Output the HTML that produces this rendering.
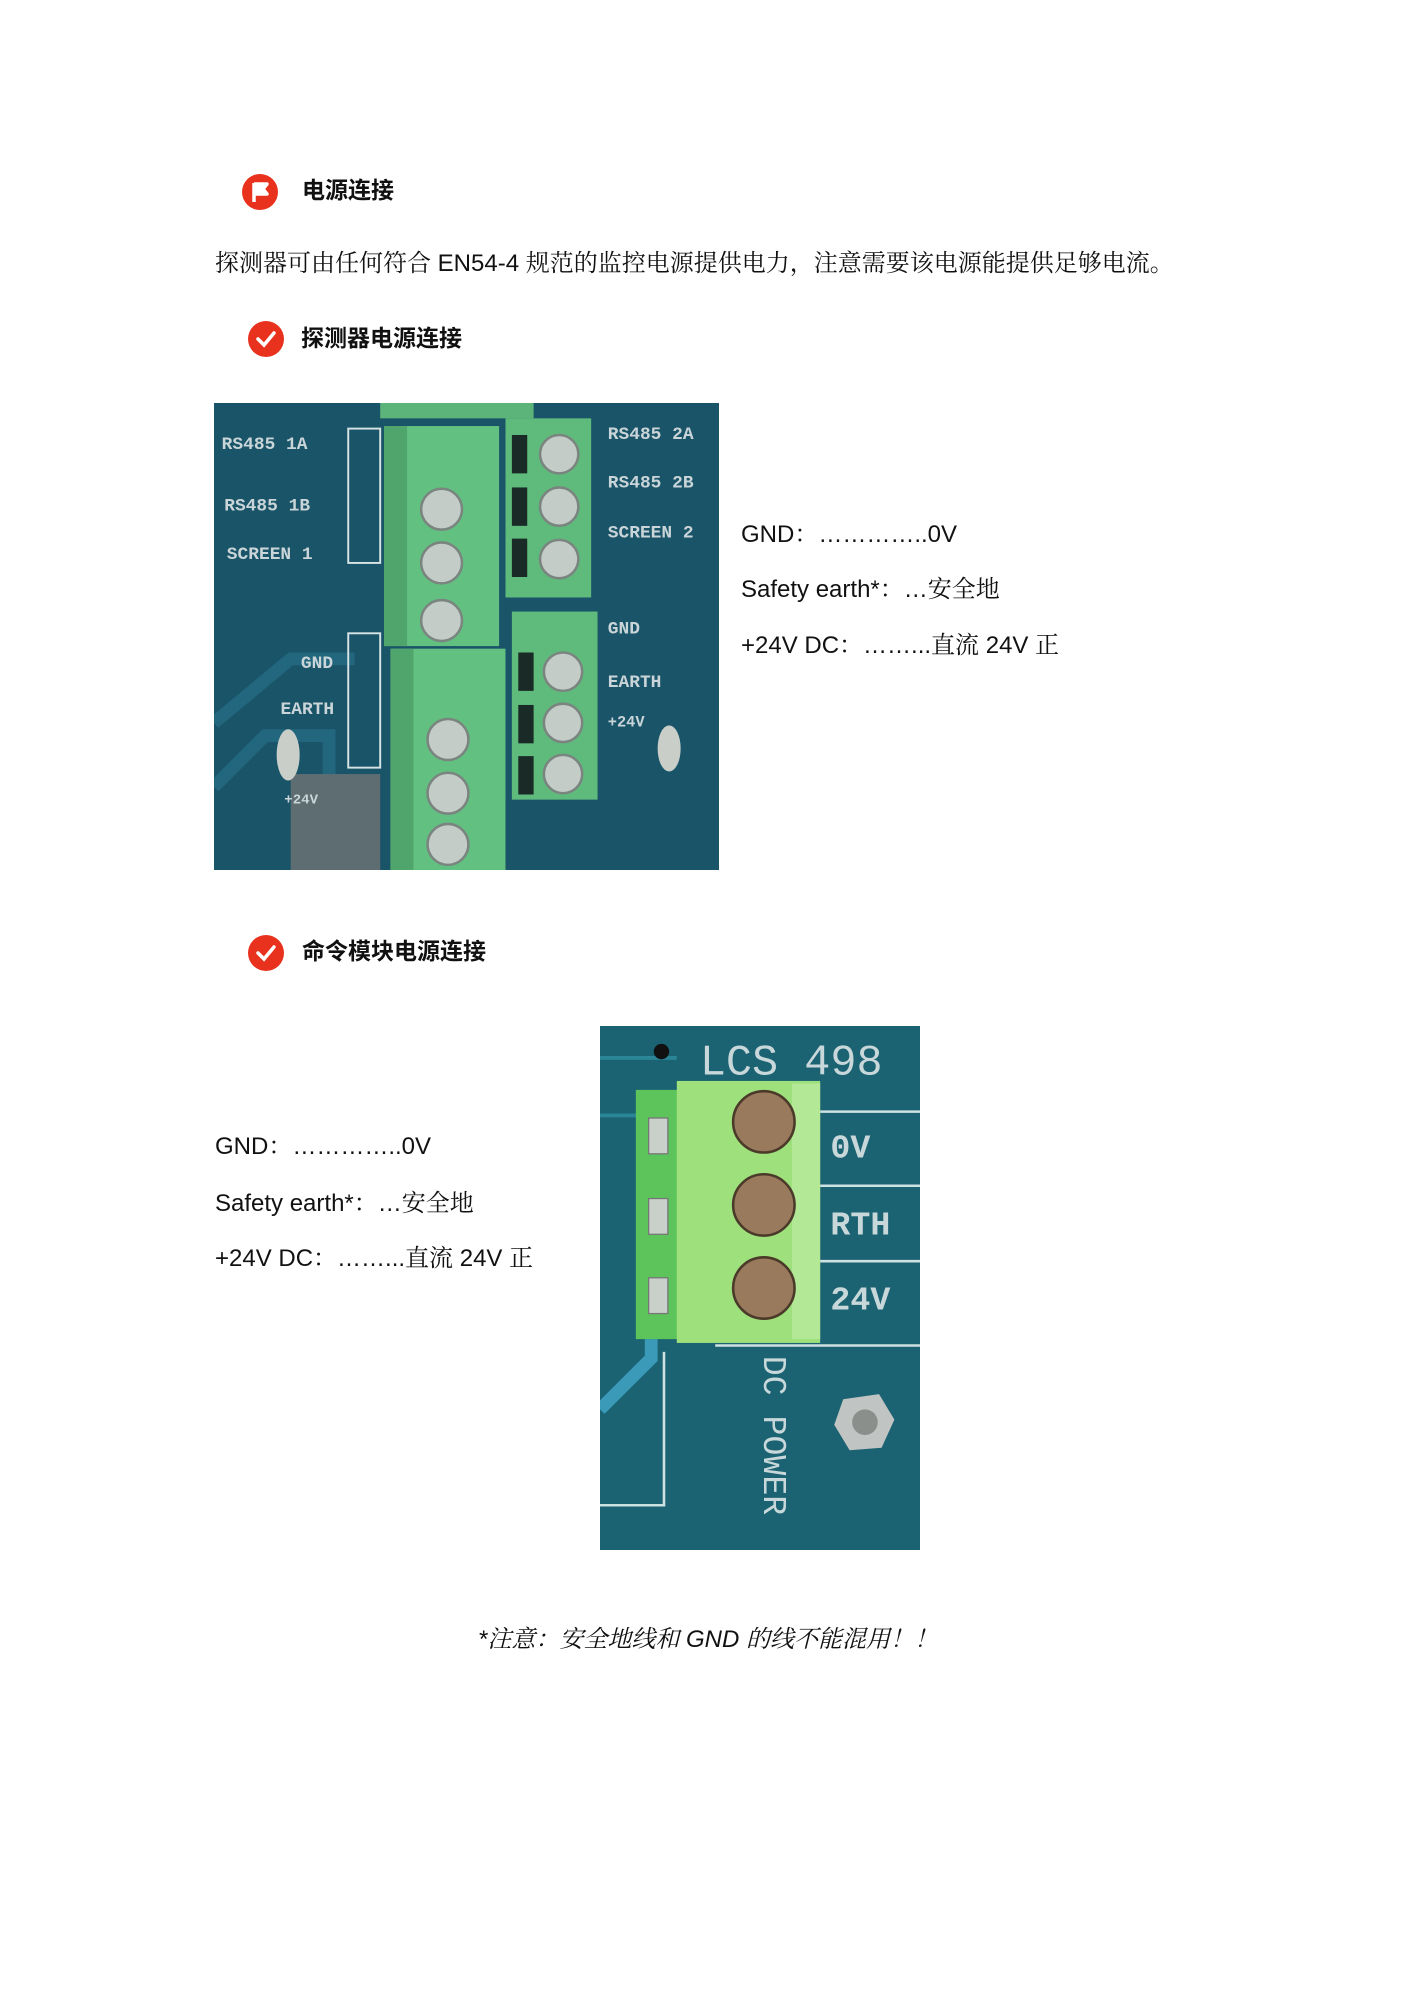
<!DOCTYPE html>
<html><head><meta charset="utf-8"><style>
html,body{margin:0;padding:0;background:#fff;}
body{width:1413px;height:2000px;position:relative;font-family:"Liberation Sans","Noto Serif CJK SC",serif;color:#111;}
.t{position:absolute;font-size:24px;line-height:1;white-space:nowrap;}
.h{font-family:"Liberation Sans","Noto Sans CJK SC",sans-serif;font-weight:bold;font-size:23px;}
.ic{position:absolute;width:36px;height:36px;border-radius:50%;background:#e8321e;}
</style></head><body>

<div class="ic" style="left:242px;top:174px;"></div>
<svg style="position:absolute;left:242px;top:174px" width="36" height="36"><path d="M12 9 L12 28 M12 10 L25 10 L21 15 L25 20 L12 20" stroke="#fff" stroke-width="3.5" fill="#fff" stroke-linejoin="round"/></svg>
<div class="t h" style="left:302px;top:179px;">电源连接</div>

<div class="t" style="left:215px;top:252px;">探测器可由任何符合 EN54-4 规范的监控电源提供电力，注意需要该电源能提供足够电流。</div>

<div class="ic" style="left:248px;top:321px;"></div>
<svg style="position:absolute;left:248px;top:321px" width="36" height="36"><path d="M10 18 L16 24 L26 12" stroke="#fff" stroke-width="3.5" fill="none" stroke-linecap="round"/></svg>
<div class="t h" style="left:301px;top:327px;">探测器电源连接</div>

<svg style="position:absolute;left:214px;top:403px" width="505" height="467" viewBox="0 0 395 365" preserveAspectRatio="none">
<rect width="395" height="365" fill="#1a5468"/>
<path d="M0 250 L60 200 L110 200 M0 300 L40 260 L90 260 L90 365" stroke="#22677e" stroke-width="10" fill="none"/>
<rect x="60" y="290" width="70" height="75" fill="#5d6d72"/>
<rect x="105" y="20" width="25" height="105" fill="none" stroke="#d8e4e6" stroke-width="1.5"/>
<rect x="105" y="180" width="25" height="105" fill="none" stroke="#d8e4e6" stroke-width="1.5"/>
<g font-family="Liberation Mono,monospace" font-weight="bold" font-size="14" fill="#c9d5d8">
<text x="6" y="36">RS485 1A</text><text x="8" y="84">RS485 1B</text><text x="10" y="122">SCREEN 1</text>
<text x="68" y="207">GND</text><text x="52" y="243">EARTH</text><text x="55" y="313" font-size="11">+24V</text>
<text x="308" y="28">RS485 2A</text><text x="308" y="66">RS485 2B</text><text x="308" y="105">SCREEN 2</text>
<text x="308" y="180">GND</text><text x="308" y="222">EARTH</text><text x="308" y="253" font-size="12">+24V</text>
</g>
<rect x="130" y="0" width="120" height="12" fill="#5db47a"/>
<rect x="228" y="12" width="67" height="140" fill="#5fbb7c"/>
<rect x="133" y="18" width="90" height="172" fill="#62c080"/>
<rect x="133" y="18" width="18" height="172" fill="#4fa56c"/>
<rect x="138" y="192" width="90" height="173" fill="#62c080"/>
<rect x="138" y="192" width="18" height="173" fill="#4fa56c"/>
<rect x="233" y="163" width="67" height="147" fill="#5fbb7c"/>
<g fill="#1a2a26"><rect x="233" y="25" width="12" height="30"/><rect x="233" y="66" width="12" height="30"/><rect x="233" y="106" width="12" height="30"/>
<rect x="238" y="195" width="12" height="30"/><rect x="238" y="236" width="12" height="30"/><rect x="238" y="276" width="12" height="30"/></g>
<g fill="#c4ccc8" stroke="#7a8580" stroke-width="2">
<circle cx="178" cy="83" r="16"/><circle cx="178" cy="125" r="16"/><circle cx="178" cy="170" r="16"/>
<circle cx="270" cy="40" r="15"/><circle cx="270" cy="81" r="15"/><circle cx="270" cy="122" r="15"/>
<circle cx="183" cy="263" r="16"/><circle cx="183" cy="305" r="16"/><circle cx="183" cy="345" r="16"/>
<circle cx="273" cy="210" r="15"/><circle cx="273" cy="250" r="15"/><circle cx="273" cy="290" r="15"/></g>
<ellipse cx="58" cy="275" rx="9" ry="20" fill="#c9cfc8"/>
<ellipse cx="356" cy="270" rx="9" ry="18" fill="#c9cfc8"/>
</svg>

<div class="t" style="left:741px;top:523px;">GND：…………..0V</div>
<div class="t" style="left:741px;top:578px;">Safety earth*：…安全地</div>
<div class="t" style="left:741px;top:634px;">+24V DC：……...直流 24V 正</div>

<div class="ic" style="left:248px;top:935px;"></div>
<svg style="position:absolute;left:248px;top:935px" width="36" height="36"><path d="M10 18 L16 24 L26 12" stroke="#fff" stroke-width="3.5" fill="none" stroke-linecap="round"/></svg>
<div class="t h" style="left:302px;top:940px;">命令模块电源连接</div>

<div class="t" style="left:215px;top:1135px;">GND：…………..0V</div>
<div class="t" style="left:215px;top:1192px;">Safety earth*：…安全地</div>
<div class="t" style="left:215px;top:1247px;">+24V DC：……...直流 24V 正</div>

<svg style="position:absolute;left:600px;top:1026px" width="320" height="524" viewBox="0 0 250 410" preserveAspectRatio="none">
<rect width="250" height="410" fill="#1b6272"/>
<path d="M0 25 L60 25 M0 70 L30 70 L30 130" stroke="#2a8596" stroke-width="3" fill="none"/>
<path d="M0 300 L40 260 L40 245" stroke="#3a9ab8" stroke-width="10" fill="none"/>
<path d="M50 255 L50 375 L0 375" stroke="#cfe2e2" stroke-width="2" fill="none"/>
<g stroke="#cfe2e2" stroke-width="2"><line x1="172" y1="67" x2="250" y2="67"/><line x1="172" y1="125" x2="250" y2="125"/><line x1="172" y1="184" x2="250" y2="184"/><line x1="90" y1="250" x2="250" y2="250"/></g>
<g font-family="Liberation Mono,monospace" fill="#c8d8da">
<text x="78" y="38" font-size="34">LCS 498</text>
<text x="180" y="103" font-size="26" font-weight="bold">0V</text>
<text x="180" y="163" font-size="26" font-weight="bold">RTH</text>
<text x="180" y="222" font-size="26" font-weight="bold">24V</text>
<text transform="translate(128,258) rotate(90)" font-size="26">DC POWER</text>
</g>
<circle cx="48" cy="20" r="6" fill="#111"/>
<rect x="28" y="50" width="50" height="195" fill="#5cc45a"/>
<rect x="60" y="43" width="112" height="205" fill="#9ee07c"/>
<rect x="150" y="45" width="22" height="200" fill="#b3e896"/>
<g fill="#c9cfc9" stroke="#777" stroke-width="1"><rect x="38" y="72" width="15" height="28"/><rect x="38" y="135" width="15" height="28"/><rect x="38" y="197" width="15" height="28"/></g>
<g fill="#9a7a5c" stroke="#4b3a2a" stroke-width="2"><circle cx="128" cy="75" r="24"/><circle cx="128" cy="140" r="24"/><circle cx="128" cy="205" r="24"/></g>
<polygon points="190,292 218,288 230,308 220,330 195,332 183,312" fill="#c0c4c2"/>
<circle cx="207" cy="310" r="10" fill="#8a8f8c"/>
</svg>

<div class="t" style="left:478px;top:1628px;font-style:italic;">*注意：安全地线和 GND 的线不能混用！！</div>
</body></html>
